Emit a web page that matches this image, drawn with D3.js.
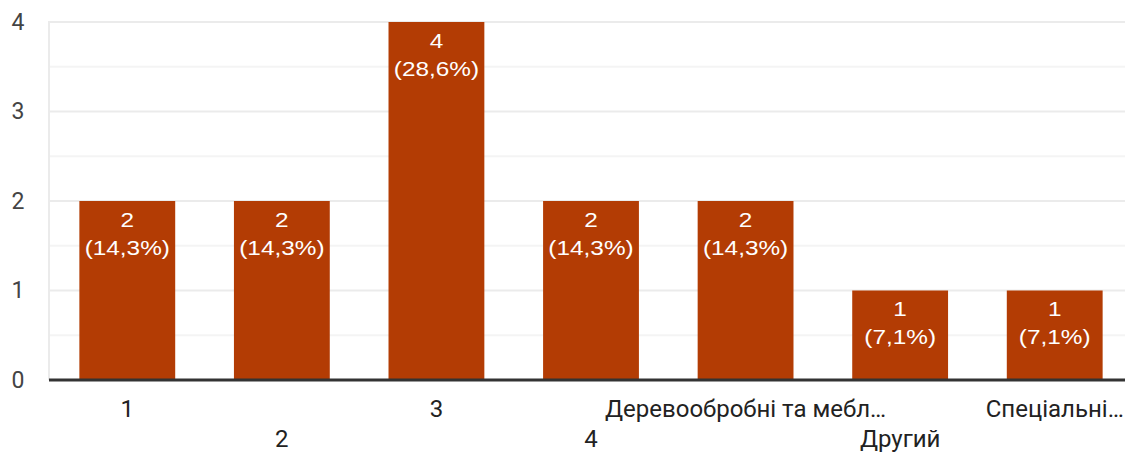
<!DOCTYPE html>
<html>
<head>
<meta charset="utf-8">
<script src="https://cdn.jsdelivr.net/npm/d3@7"></script>
<style>
  body { margin: 0; background: #fff; }
  svg { display: block; font-family: Roboto, Arial, sans-serif; }
</style>
</head>
<body>
<svg id="chart" width="1125" height="453"></svg>
<script>
// Chart data
const categories = ["1", "2", "3", "4", "Деревообробні та мебл…", "Другий", "Спеціальні…"];
const counts = [2, 2, 4, 2, 2, 1, 1];
const yTicks = [0, 1, 2, 3, 4];
const yGridMinor = [0.5, 1.5, 2.5, 3.5];

const svg = d3.select("#chart");
const width = 1125, height = 453;
const margin = { left: 49, top: 22, bottom: 73 };
const total = d3.sum(counts);

const x = d3.scaleBand()
    .domain(categories)
    .range([50, 1132])
    .paddingInner(0.38)
    .paddingOuter(0.19);

const y = d3.scaleLinear()
    .domain([0, 4])
    .range([height - margin.bottom, margin.top]);

const cx = i => x(categories[i]) + x.bandwidth() / 2;

// gridlines
svg.selectAll(".minor")
    .data(yGridMinor)
    .enter().append("line")
    .attr("x1", margin.left).attr("x2", width)
    .attr("y1", d => y(d)).attr("y2", d => y(d))
    .attr("stroke", "#f4f4f4")
    .attr("stroke-width", 2);

svg.selectAll(".major")
    .data(yTicks.filter(d => d > 0))
    .enter().append("line")
    .attr("x1", margin.left).attr("x2", width)
    .attr("y1", d => y(d)).attr("y2", d => y(d))
    .attr("stroke", "#ebebeb")
    .attr("stroke-width", 2);

svg.append("line")
    .attr("x1", margin.left).attr("x2", margin.left)
    .attr("y1", y(4) - 1).attr("y2", y(0))
    .attr("stroke", "#ebebeb")
    .attr("stroke-width", 2);

// y tick labels
svg.selectAll(".ylabel")
    .data(yTicks)
    .enter().append("text")
    .attr("x", 18)
    .attr("y", d => y(d))
    .attr("text-anchor", "middle")
    .attr("dominant-baseline", "central")
    .attr("fill", "#444")
    .style("font-size", "23px")
    .text(d => d);

// bars
svg.selectAll(".bar")
    .data(counts)
    .enter().append("rect")
    .attr("x", (d, i) => x(categories[i]))
    .attr("y", d => y(d))
    .attr("width", x.bandwidth())
    .attr("height", d => y(0) - y(d))
    .attr("fill", "#b33c04");

// bar value labels (the source glyphs are a bit wide, so stretch horizontally)
const fmtPct = d => "(" + d3.format(".1f")(d / total * 100).replace(".", ",") + "%)";
const barLabels = svg.selectAll(".barlabel")
    .data(counts)
    .enter().append("text")
    .attr("transform", (d, i) => `translate(${cx(i)},0) scale(1.16,1)`)
    .attr("text-anchor", "middle")
    .attr("fill", "#fff")
    .style("font-family", "'Liberation Sans', Arial, sans-serif")
    .style("font-size", "21px");

barLabels.append("tspan")
    .attr("x", 0)
    .attr("y", d => y(d) + 26)
    .text(d => d);

barLabels.append("tspan")
    .attr("x", 0)
    .attr("y", d => y(d) + 54)
    .text(d => fmtPct(d));

// baseline
svg.append("line")
    .attr("x1", margin.left).attr("x2", width)
    .attr("y1", y(0)).attr("y2", y(0))
    .attr("stroke", "#333")
    .attr("stroke-width", 3);

// category labels, staggered on two rows
svg.selectAll(".xlabel")
    .data(categories)
    .enter().append("text")
    .attr("x", (d, i) => cx(i))
    .attr("y", (d, i) => i % 2 === 0 ? 417 : 447)
    .attr("text-anchor", "middle")
    .attr("fill", "#222")
    .style("font-size", "24px")
    .text(d => d);
</script>
</body>
</html>
